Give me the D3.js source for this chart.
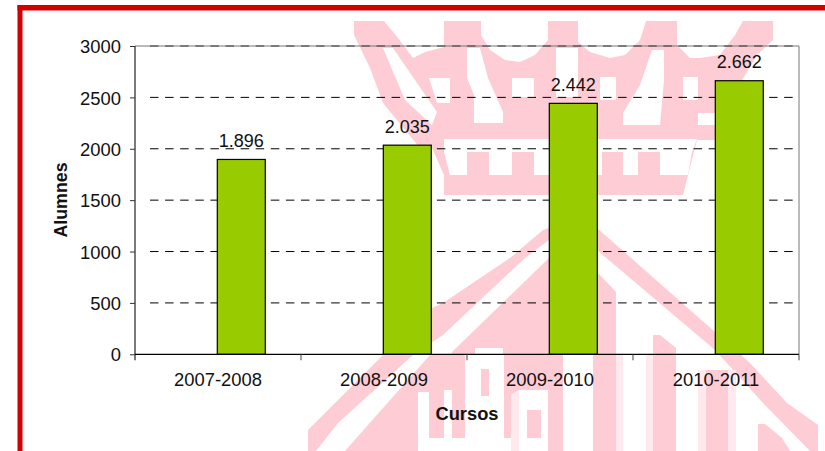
<!DOCTYPE html>
<html><head><meta charset="utf-8">
<script src="https://cdnjs.cloudflare.com/ajax/libs/d3/7.8.5/d3.min.js"></script>
<style>html,body{margin:0;padding:0;background:#fff;overflow:hidden}svg{display:block}text{font-family:"Liberation Sans",Arial,sans-serif;fill:#111}</style>
</head><body><svg id="c" width="825" height="451"></svg>
<script>
const categories = ["2007-2008","2008-2009","2009-2010","2010-2011"];
const seriesNames = ["(buit)","Alumnes"];
const alumnes = [1896,2035,2442,2662];
const dataLabels = ["1.896","2.035","2.442","2.662"];
const yTicks = [0,500,1000,1500,2000,2500,3000];

// Decorative background watermark outlines (not chart data)
const wmPink = [
 [[354,21],[384,21],[398,38],[413,58],[425,52],[444,47],[444,21],[481,21],[481,35],[490,50],[505,60],[520,62],[535,55],[548,40],[548,21],[578,21],[578,42],[590,52],[610,58],[625,55],[640,40],[646,21],[677,21],[677,45],[690,58],[700,58],[720,55],[735,35],[743,21],[773,21],[773,40],[757,55],[745,75],[730,100],[715,125],[715,140],[697,140],[683,195],[444,195],[444,175],[432,148],[420,148],[383,103],[370,68],[354,35]],
 [[549,228],[543,230],[510,258],[443,303],[432,308],[383,355],[308,430],[308,451],[316,451],[338,423],[413,355],[443,335],[525,258],[549,240]],
 [[549,258],[452,352],[452,355],[475,355],[475,348],[503,348],[503,355],[549,355]],
 [[430,355],[465,355],[465,438],[452,438],[452,390],[444,390],[444,438],[429,438],[429,392],[418,392],[418,451],[345,451]],
 [[481,369],[489,369],[489,396],[481,396]],
 [[504,355],[563,355],[563,451],[548,451],[548,390],[519,390],[511,395],[511,438],[504,438]],
 [[527,410],[541,410],[541,438],[527,438]],
 [[597,228],[715,332],[750,363],[787,403],[818,425],[818,451],[810,451],[763,403],[715,350],[597,250]],
 [[597,272],[616,292],[616,451],[593,451],[593,272]],
 [[653,335],[660,335],[676,348],[676,451],[653,451]],
 [[706,370],[728,370],[728,451],[706,451]],
 [[758,424],[765,424],[782,438],[790,451],[758,451]]
];
const wmPale = [
 [[616,355],[623,355],[623,451],[616,451]],
 [[646,355],[653,355],[653,451],[646,451]],
 [[698,370],[706,370],[706,451],[698,451]],
 [[728,370],[736,370],[736,451],[728,451]],
 [[511,395],[519,390],[519,451],[511,451]]
];
const wmWhite = [
 [[383,48],[393,48],[437,112],[432,125],[405,100]],
 [[467,48],[480,48],[488,78],[503,112],[503,123],[474,123],[474,95],[467,78]],
 [[429,78],[450,78],[450,103],[437,103]],
 [[512,78],[534,78],[534,97],[512,97]],
 [[556,48],[578,48],[578,97],[556,97]],
 [[600,77],[616,77],[616,100],[600,100]],
 [[652,50],[664,50],[664,80],[660,125],[623,125],[623,113],[640,85]],
 [[683,77],[698,77],[698,100],[683,100]],
 [[698,113],[715,113],[715,125],[698,125]],
 [[444,139],[697,139],[692,152],[444,152]],
 [[444,152],[467,152],[467,175],[450,175]],
 [[489,152],[512,152],[512,175],[489,175]],
 [[534,152],[549,152],[549,175],[534,175]],
 [[597,152],[602,152],[602,175],[597,175]],
 [[623,152],[638,152],[638,175],[623,175]],
 [[660,152],[683,152],[683,175],[660,175]],
 [[683,152],[692,152],[688,175],[683,175]]
];

const svg = d3.select("#c");
const L=135,R=799,T=46,B=354.3;
const line = d3.line().curve(d3.curveLinearClosed);
const wm = svg.append("g");
wm.selectAll(".p").data(wmPink).join("path").attr("d",line).attr("fill","#fdccd5");
wm.selectAll(".w").data(wmWhite).join("path").attr("d",line).attr("fill","#fff");
wm.selectAll(".q").data(wmPale).join("path").attr("d",line).attr("fill","#feeaee");

// frame
svg.append("rect").attr("x",17.5).attr("y",5).attr("width",5).attr("height",446).attr("fill","#d40000");
svg.append("rect").attr("x",17.5).attr("y",5).attr("width",807.5).attr("height",5.5).attr("fill","#d40000");

const x0 = d3.scaleBand().domain(categories).range([L,R]);
const x1 = d3.scaleBand().domain(seriesNames).range([-0.7,x0.bandwidth()-0.7]).paddingInner(0).paddingOuter(0.73);
const y = d3.scaleLinear().domain([0,3000]).range([B,T]);

// grid
svg.append("g").selectAll("line").data(yTicks.filter(d=>d>0)).join("line")
  .attr("x1",150).attr("x2",R).attr("y1",d=>y(d)).attr("y2",d=>y(d))
  .attr("stroke","#000").attr("stroke-width",1).attr("stroke-dasharray","8.5 6.6");
svg.append("line").attr("x1",L).attr("x2",R).attr("y1",T).attr("y2",T).attr("stroke","#777").attr("stroke-width",1);
svg.append("line").attr("x1",R).attr("x2",R).attr("y1",T).attr("y2",B).attr("stroke","#777").attr("stroke-width",1);

// bars
svg.append("g").selectAll("rect").data(alumnes).join("rect")
  .attr("x",(d,i)=>x0(categories[i])+x1("Alumnes"))
  .attr("y",d=>y(d)).attr("width",x1.bandwidth()).attr("height",d=>B-y(d))
  .attr("fill","#99cc00").attr("stroke","#000").attr("stroke-width",1.2);

// data labels
svg.append("g").selectAll("text").data(alumnes).join("text")
  .attr("x",(d,i)=>x0(categories[i])+x1("Alumnes")+x1.bandwidth()/2)
  .attr("y",d=>y(d)-12.5).attr("text-anchor","middle").attr("font-size",18)
  .text((d,i)=>dataLabels[i]);

// axes
const ay = svg.append("g").attr("transform",`translate(${L},0)`)
  .call(d3.axisLeft(y).tickValues(yTicks).tickSize(5).tickPadding(9).tickFormat(d3.format("d")));
ay.selectAll("text").attr("font-size",18.4).attr("font-family",null).attr("dy","0.36em");
ay.selectAll("line").attr("stroke","#333");
ay.select(".domain").attr("stroke","#333").attr("stroke-width",1.3).attr("d",`M0,${T}V${B+6}`);
const ax = svg.append("g").attr("transform",`translate(0,${B})`)
  .call(d3.axisBottom(x0).tickSize(0).tickPadding(19));
ax.selectAll("text").attr("font-size",18.4).attr("font-family",null).attr("dy","0.71em");
ax.select(".domain").attr("stroke","#000").attr("stroke-width",1.2).attr("d",`M${L},0H${R}`);
svg.append("g").selectAll("line").data(categories).join("line")
  .attr("x1",d=>x0(d)+x0.bandwidth()).attr("x2",d=>x0(d)+x0.bandwidth())
  .attr("y1",B).attr("y2",B+6).attr("stroke","#444").attr("stroke-width",1);

// titles
svg.append("text").attr("x",467).attr("y",420).attr("text-anchor","middle")
  .attr("font-size",18.3).attr("font-weight","bold").text("Cursos");
svg.append("text").attr("transform","translate(66.5,200) rotate(-90)").attr("text-anchor","middle")
  .attr("font-size",17.8).attr("font-weight","bold").text("Alumnes");
</script></body></html>
